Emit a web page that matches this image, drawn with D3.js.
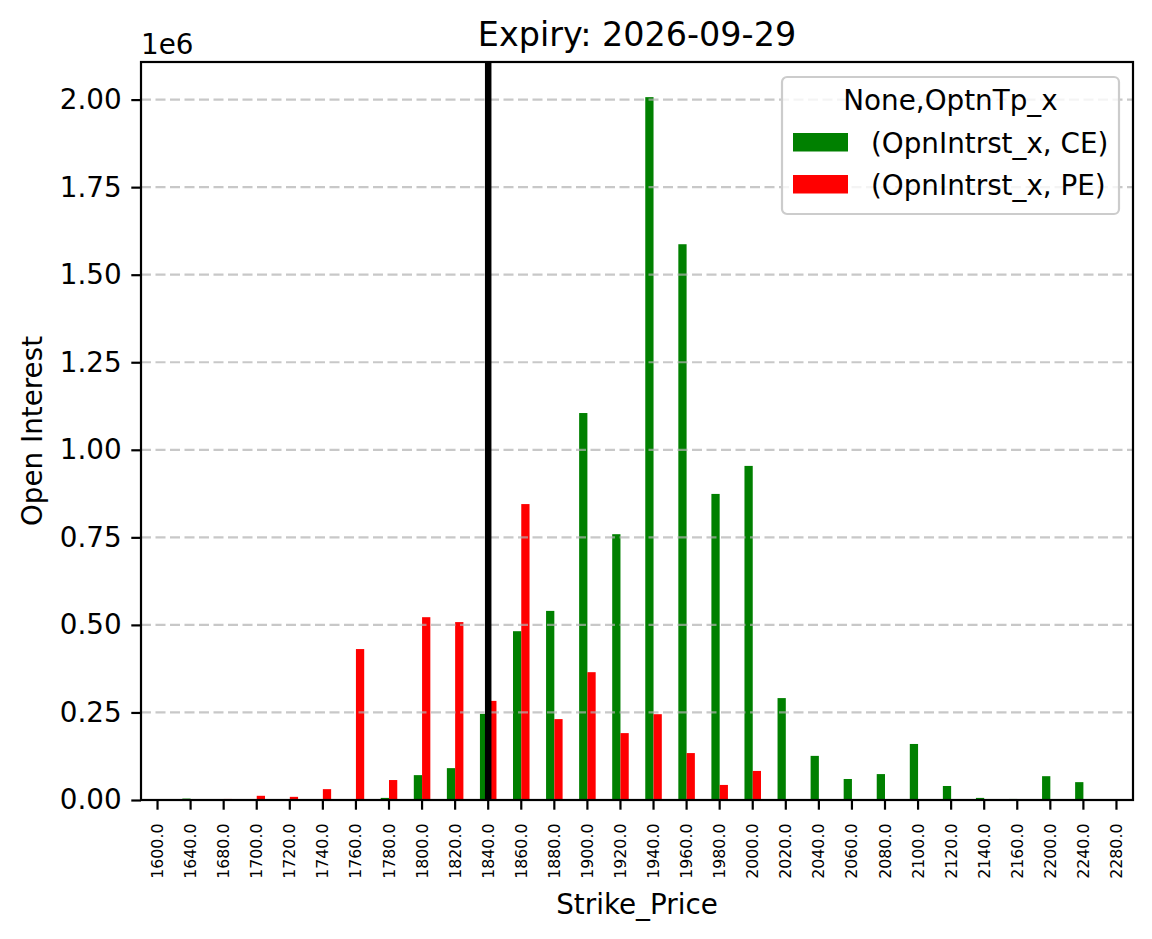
<!DOCTYPE html>
<html>
<head>
<meta charset="utf-8">
<script src="https://cdn.jsdelivr.net/npm/d3@7"></script>
<style>
    body { margin: 0; background: #fff; }
    svg { font-family: "DejaVu Sans", sans-serif; }
</style>
</head>
<body>
<div id="chart"></div>
<script>
// Open interest per strike, expiry 2026-09-29
const strikes = ["1600.0", "1640.0", "1680.0", "1700.0", "1720.0", "1740.0", "1760.0", "1780.0",
    "1800.0", "1820.0", "1840.0", "1860.0", "1880.0", "1900.0", "1920.0", "1940.0", "1960.0",
    "1980.0", "2000.0", "2020.0", "2040.0", "2060.0", "2080.0", "2100.0", "2120.0", "2140.0",
    "2160.0", "2200.0", "2240.0", "2280.0"];

const ceValues = [0, 4000, 0, 0, 0, 0, 0, 6000,
    71000, 91000, 246000, 482000, 540000, 1105000, 759000, 2007000, 1587000,
    874000, 954000, 291000, 126000, 60000, 74000, 160000, 40000, 6000,
    3000, 68000, 51000, 0];

const peValues = [0, 0, 3000, 12000, 9000, 31000, 431000, 57000,
    522000, 508000, 283000, 845000, 231000, 365000, 191000, 245000, 134000,
    43000, 83000, 0, 0, 0, 0, 0, 0, 0,
    0, 0, 0, 0];

const yTicks = [0, 0.25e6, 0.5e6, 0.75e6, 1.0e6, 1.25e6, 1.5e6, 1.75e6, 2.0e6];
const spotStrike = "1840.0";

const series = [
    {label: "(OpnIntrst_x, CE)", values: ceValues, color: "#008000"},
    {label: "(OpnIntrst_x, PE)", values: peValues, color: "#ff0000"}
];

function drawChart() {
    const W = 1152, H = 939;
    const margin = {top: 62, right: 19, bottom: 139, left: 141};
    const width = W - margin.left - margin.right;
    const height = H - margin.top - margin.bottom;
    const fs = 27.8;      // 10pt
    const tick = 9.7;     // 3.5pt

    const svg = d3.select("#chart").append("svg")
        .attr("width", W)
        .attr("height", H);

    const g = svg.append("g")
        .attr("transform", `translate(${margin.left},${margin.top})`);

    // Scales
    const x = d3.scaleBand()
        .domain(strikes)
        .range([0, width])
        .padding(0);

    // pandas bar: two bars share half of each slot
    const sub = d3.scaleBand()
        .domain(series.map(s => s.label))
        .range([x.bandwidth() * 0.25, x.bandwidth() * 0.75]);

    const yMax = d3.max(series, s => d3.max(s.values)) * 1.05;
    const y = d3.scaleLinear()
        .domain([0, yMax])
        .range([height, 0]);

    // Bars
    series.forEach(s => {
        g.append("g")
            .selectAll("rect")
            .data(s.values.map((v, i) => ({strike: strikes[i], value: v})))
            .enter()
            .append("rect")
            .attr("x", d => x(d.strike) + sub(s.label))
            .attr("width", sub.bandwidth())
            .attr("y", d => y(d.value))
            .attr("height", d => height - y(d.value))
            .attr("fill", s.color);
    });

    // Grid (drawn over bars like matplotlib)
    g.append("g")
        .selectAll("line")
        .data(yTicks)
        .enter()
        .append("line")
        .attr("x1", 0)
        .attr("x2", width)
        .attr("y1", d => y(d))
        .attr("y2", d => y(d))
        .attr("stroke", "#b0b0b0")
        .attr("stroke-opacity", 0.7)
        .attr("stroke-width", 2.2)
        .attr("stroke-dasharray", "10,4.5");

    // Spot line
    g.append("line")
        .attr("x1", x(spotStrike) + x.bandwidth() / 2)
        .attr("x2", x(spotStrike) + x.bandwidth() / 2)
        .attr("y1", 0)
        .attr("y2", height)
        .attr("stroke", "#000")
        .attr("stroke-width", 6.5);

    // X axis
    const xAxis = g.append("g")
        .attr("transform", `translate(0,${height})`)
        .call(d3.axisBottom(x).tickSize(tick).tickPadding(9.7));
    xAxis.select(".domain").remove();
    xAxis.selectAll(".tick line").attr("stroke-width", 2.2);
    xAxis.selectAll("text")
        .attr("transform", "rotate(-90)")
        .attr("x", -23.5)
        .attr("y", 0)
        .attr("dy", "0.35em")
        .style("text-anchor", "end")
        .style("font-size", "15.8px")
        .style("font-family", "DejaVu Sans")
        .attr("fill", "#000");

    // Y axis
    const yAxis = g.append("g")
        .call(d3.axisLeft(y).tickValues(yTicks)
            .tickFormat(d => (d / 1e6).toFixed(2))
            .tickSize(tick).tickPadding(9.7));
    yAxis.select(".domain").remove();
    yAxis.selectAll(".tick line").attr("stroke-width", 2.2);
    yAxis.selectAll("text")
        .style("font-size", fs + "px")
        .style("font-family", "DejaVu Sans")
        .attr("fill", "#000");

    // Frame
    g.append("rect")
        .attr("width", width)
        .attr("height", height)
        .attr("fill", "none")
        .attr("stroke", "#000")
        .attr("stroke-width", 2.2);

    // Offset text
    g.append("text")
        .attr("x", 0)
        .attr("y", -8)
        .style("font-size", fs + "px")
        .text("1e6");

    // Title & labels
    svg.append("text")
        .attr("x", margin.left + width / 2)
        .attr("y", 46)
        .attr("text-anchor", "middle")
        .style("font-size", "33.4px")
        .text("Expiry: 2026-09-29");

    svg.append("text")
        .attr("x", margin.left + width / 2)
        .attr("y", 914)
        .attr("text-anchor", "middle")
        .style("font-size", fs + "px")
        .text("Strike_Price");

    svg.append("text")
        .attr("transform", `translate(42,${margin.top + height / 2}) rotate(-90)`)
        .attr("text-anchor", "middle")
        .style("font-size", fs + "px")
        .text("Open Interest");

    // Legend
    const legend = svg.append("g")
        .attr("transform", "translate(782,77)");

    legend.append("rect")
        .attr("width", 337)
        .attr("height", 137)
        .attr("rx", 5)
        .attr("fill", "#fff")
        .attr("fill-opacity", 0.8)
        .attr("stroke", "#cccccc")
        .attr("stroke-width", 2.2);

    legend.append("text")
        .attr("x", 168.5)
        .attr("y", 33)
        .attr("text-anchor", "middle")
        .style("font-size", fs + "px")
        .text("None,OptnTp_x");

    series.forEach((s, i) => {
        const row = legend.append("g")
            .attr("transform", `translate(11, ${56 + i * 42})`);
        row.append("rect")
            .attr("width", 55)
            .attr("height", 18.5)
            .attr("fill", s.color);
        row.append("text")
            .attr("x", 78)
            .attr("y", 20)
            .style("font-size", fs + "px")
            .text(s.label);
    });
}

drawChart();
</script>
</body>
</html>
